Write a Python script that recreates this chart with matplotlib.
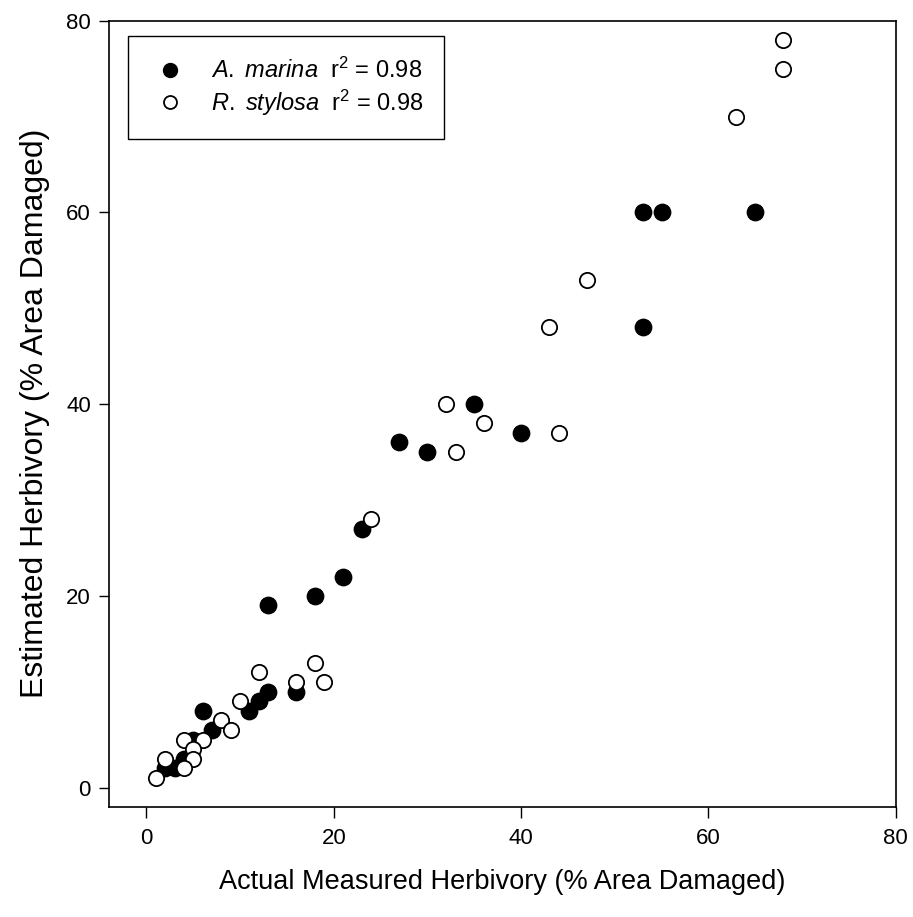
import matplotlib
matplotlib.use("Agg")
import matplotlib.pyplot as plt

plt.rcParams['font.family'] = ['Liberation Sans', 'DejaVu Sans']
plt.rcParams['mathtext.fontset'] = 'custom'
plt.rcParams['mathtext.rm'] = 'Liberation Sans'
plt.rcParams['mathtext.it'] = 'Liberation Sans:italic'

# A. marina (filled)
am_x = [53, 55, 65, 53, 35, 40, 27, 30, 23, 21, 18, 13, 16, 13, 12, 11, 6, 7, 5, 4, 3, 2]
am_y = [60, 60, 60, 48, 40, 37, 36, 35, 27, 22, 20, 19, 10, 10, 9, 8, 8, 6, 5, 3, 2, 2]
# R. stylosa (open)
rs_x = [68, 68, 63, 47, 43, 32, 36, 44, 33, 24, 18, 12, 16, 19, 10, 8, 9, 6, 4, 5, 5, 2, 4, 1]
rs_y = [78, 75, 70, 53, 48, 40, 38, 37, 35, 28, 13, 12, 11, 11, 9, 7, 6, 5, 5, 4, 3, 3, 2, 1]

labels = [r'$\mathit{A.}$ $\mathit{marina}$  r$^2$ = 0.98', r'$\mathit{R.}$ $\mathit{stylosa}$  r$^2$ = 0.98']
xticks = [0, 20, 40, 60, 80]
yticks = [0, 20, 40, 60, 80]

fig = plt.figure(figsize=(9.13, 9.17), dpi=100)
ax = fig.add_axes([0.1194, 0.1203, 0.9810 - 0.1194, 0.9774 - 0.1203])

ax.plot(am_x, am_y, 'o', ms=11.8, mfc='black', mec='black', mew=1.0, ls='none', label=labels[0])
ax.plot(rs_x, rs_y, 'o', ms=11.0, mfc='white', mec='black', mew=1.3, ls='none', label=labels[1])

ax.set_xlim(-4, 80)
ax.set_ylim(-2, 80)
ax.set_xticks(xticks)
ax.set_yticks(yticks)
ax.tick_params(axis='x', direction='out', length=8, width=1.0, labelsize=16, pad=7, colors='black')
ax.tick_params(axis='y', direction='out', length=7, width=1.0, labelsize=16, pad=6, colors='black')
for s in ax.spines.values():
    s.set_linewidth(1.2)

ax.set_xlabel('Actual Measured Herbivory (% Area Damaged)', fontsize=19.5, labelpad=15)
ax.set_ylabel('Estimated Herbivory (% Area Damaged)', fontsize=23, labelpad=12)

leg = ax.legend(loc='upper left', bbox_to_anchor=(0.024, 0.980), borderaxespad=0,
                fancybox=False, edgecolor='black', framealpha=1, fontsize=17,
                markerscale=0.85, handletextpad=0.8, borderpad=0.9, labelspacing=0.2,
                handlelength=1.8)
leg.get_frame().set_linewidth(1.0)

fig.savefig('out.png', dpi=100)
